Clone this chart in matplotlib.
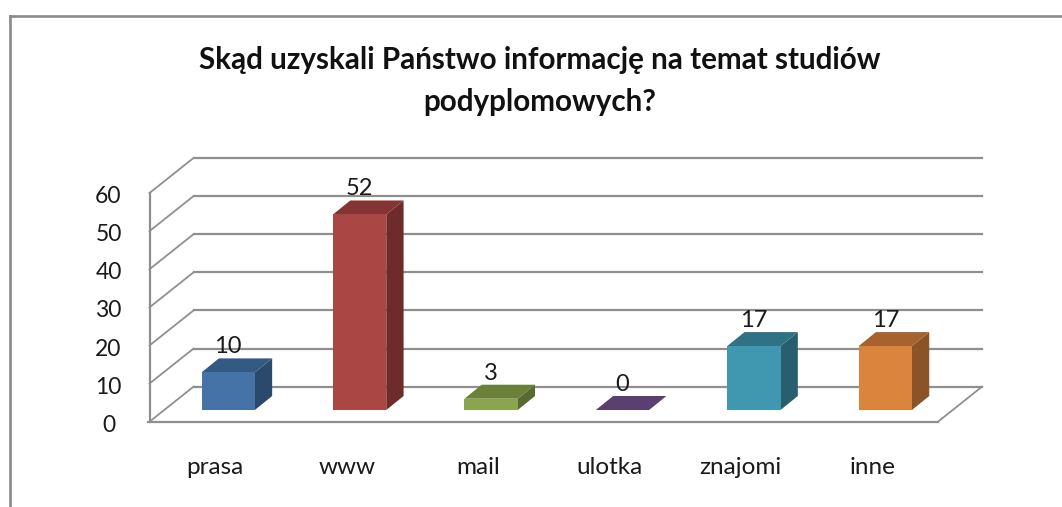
import matplotlib
matplotlib.use("Agg")
import matplotlib.pyplot as plt
from matplotlib.patches import Rectangle, Polygon
from matplotlib.lines import Line2D

plt.rcParams['font.family'] = ['Lato', 'DejaVu Sans']

categories = ["prasa", "www", "mail", "ulotka", "znajomi", "inne"]
values = [10, 52, 3, 0, 17, 17]
y_ticks = [0, 10, 20, 30, 40, 50, 60]
title = "Skąd uzyskali Państwo informację na temat studiów\npodyplomowych?"
front_colors = ["#4572A7", "#AA4643", "#89A54E", "#5A4070", "#3F98AF", "#DB843D"]
top_colors = ["#325A83", "#853333", "#6B8139", "#5A4070", "#2F7285", "#A66330"]
side_colors = ["#2A496C", "#6D2B2A", "#576A2F", "#4A3560", "#285F6E", "#8A5428"]

W, H = 1062, 507
GRID = "#8f8f8f"
TEXT = "#1a1a1a"
fig = plt.figure(figsize=(W / 100, H / 100), dpi=100, facecolor="white")


def px_axes(x0, x1, y_bottom, y_top):
    a = fig.add_axes([x0 / W, 1 - y_bottom / H, (x1 - x0) / W, (y_bottom - y_top) / H])
    a.axis("off")
    a.patch.set_visible(False)
    return a


# frame of the pasted chart: only top and left edges are in view
fig.add_artist(Line2D([9.5 / W, 9.5 / W], [0, 1 - 16 / H], color="#8a8a8a", lw=1.9,
                      solid_capstyle="projecting"))
fig.add_artist(Line2D([9.5 / W, 1], [1 - 16 / H, 1 - 16 / H], color="#8a8a8a", lw=1.9,
                      solid_capstyle="projecting"))

# front plane of the 3-D box
ax = px_axes(149.5, 938, 421.7, 193.0)
ax.set_xlim(0, len(categories))
ax.set_ylim(0, 60)
wall_dx = 44.0 / (788.5 / 6)
wall_dy = 35.0 / (228.7 / 60)
for v in y_ticks:
    ax.plot([0, wall_dx], [v, v + wall_dy], color=GRID, lw=1.3, clip_on=False, zorder=1)
    ax.plot([wall_dx, len(categories) + wall_dx], [v + wall_dy, v + wall_dy], color=GRID,
            lw=1.6, clip_on=False, zorder=1)
    ax.text(-0.312, v - 0.95, str(v), ha="center", va="center", fontsize=16.5, color=TEXT, clip_on=False)
ax.plot([0, 0], [0, 60], color=GRID, lw=1.6, clip_on=False, zorder=1)
ax.plot([-0.01, len(categories)], [0, 0], color=GRID, lw=1.6, clip_on=False, zorder=1)
ax.plot([len(categories), len(categories) + wall_dx], [0, wall_dy], color=GRID, lw=1.3,
        clip_on=False, zorder=1)
for i, c in enumerate(categories):
    ax.text(i + 0.5, -11.9, c, ha="center", va="center", fontsize=17.5, color=TEXT, clip_on=False)

# plane in which the bars stand
bx = px_axes(162.5, 951, 410.0, 410.0 - 60 * 3.76)
bx.set_xlim(0, len(categories))
bx.set_ylim(0, 60)
bw = 53.3 / (788.5 / 6)
ddx = 17.3 / (788.5 / 6)
ddy = 14.0 / 3.76
for i, v in enumerate(values):
    x0 = i + 0.5 - bw / 2
    x1 = x0 + bw
    bx.add_patch(Polygon([(x1, 0), (x1 + ddx, ddy), (x1 + ddx, v + ddy), (x1, v)],
                         fc=side_colors[i], ec="none", zorder=3, clip_on=False))
    bx.add_patch(Polygon([(x0, v), (x1, v), (x1 + ddx, v + ddy), (x0 + ddx, v + ddy)],
                         fc=top_colors[i], ec="none", zorder=3, clip_on=False))
    bx.add_patch(Rectangle((x0, 0), bw, v, fc=front_colors[i], ec="none", zorder=4, clip_on=False))
    bx.text(i + 0.5, v + ddy + 0.3, str(v), ha="center", va="bottom", fontsize=17,
            color=TEXT, zorder=5, clip_on=False)

fig.text(540 / W, 1 - 81 / H, title, ha="center", va="center", fontsize=21.3, fontweight="bold",
         color="#111111", linespacing=1.6)

fig.savefig("out.png", dpi=100, facecolor="white")
